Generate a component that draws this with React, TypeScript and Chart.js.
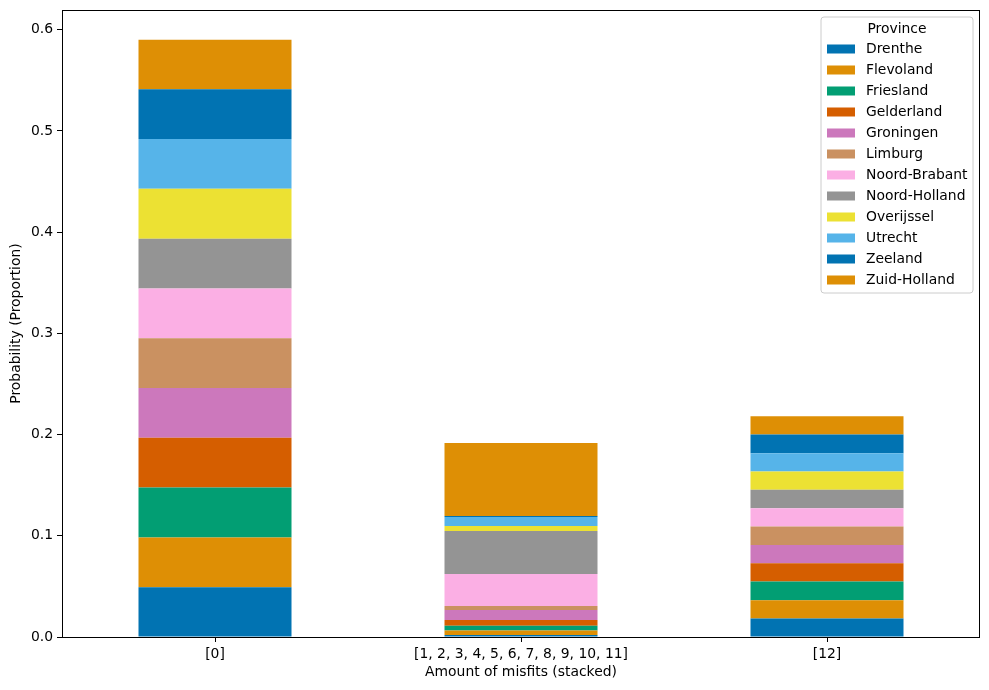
import React, { useEffect, useRef } from "react";
import { Chart, registerables } from "chart.js";

Chart.register(...registerables);

const categories = ["[0]", "[1, 2, 3, 4, 5, 6, 7, 8, 9, 10, 11]", "[12]"];
const provinces = [
  "Drenthe", "Flevoland", "Friesland", "Gelderland", "Groningen", "Limburg",
  "Noord-Brabant", "Noord-Holland", "Overijssel", "Utrecht", "Zeeland", "Zuid-Holland",
];
const colors = [
  "#0173B2", "#DE8F05", "#029E73", "#D55E00", "#CC78BC", "#CA9161",
  "#FBAFE4", "#949494", "#ECE133", "#56B4E9", "#0173B2", "#DE8F05",
];
// values per province for each category: [ [0], [1..11], [12] ]
const drenthe = [0.0492, 0.0020, 0.0184];
const flevoland = [0.0492, 0.0043, 0.0180];
const friesland = [0.0492, 0.0049, 0.0184];
const gelderland = [0.0492, 0.0056, 0.0180];
const groningen = [0.0492, 0.0099, 0.0180];
const limburg = [0.0492, 0.0040, 0.0184];
const noordBrabant = [0.0492, 0.0316, 0.0180];
const noordHolland = [0.0492, 0.0425, 0.0184];
const overijssel = [0.0492, 0.0049, 0.0180];
const utrecht = [0.0492, 0.0089, 0.0180];
const zeeland = [0.0492, 0.0010, 0.0184];
const zuidHolland = [0.0490, 0.0721, 0.0180];
const seriesValues = [
  drenthe, flevoland, friesland, gelderland, groningen, limburg,
  noordBrabant, noordHolland, overijssel, utrecht, zeeland, zuidHolland,
];
const yTicks = [0.0, 0.1, 0.2, 0.3, 0.4, 0.5, 0.6];
const yMax = 0.6195;

const FONT = "'DejaVu Sans', sans-serif";
const FS = 13.9;

const framePlugin = {
  id: "frame",
  afterDraw(chart: any) {
    const { ctx, chartArea } = chart;
    ctx.save();
    ctx.strokeStyle = "#000";
    ctx.lineWidth = 1;
    ctx.strokeRect(
      Math.round(chartArea.left) + 0.5,
      Math.round(chartArea.top) + 0.5,
      Math.round(chartArea.right - chartArea.left) - 1,
      Math.round(chartArea.bottom - chartArea.top)
    );
    // legend
    const w = 152, h = 276;
    const x = chartArea.right - 7 - w;
    const y = chartArea.top + 7;
    ctx.fillStyle = "rgba(255,255,255,0.8)";
    ctx.strokeStyle = "#cccccc";
    ctx.beginPath();
    const r = 3;
    ctx.moveTo(x + r, y);
    ctx.lineTo(x + w - r, y);
    ctx.quadraticCurveTo(x + w, y, x + w, y + r);
    ctx.lineTo(x + w, y + h - r);
    ctx.quadraticCurveTo(x + w, y + h, x + w - r, y + h);
    ctx.lineTo(x + r, y + h);
    ctx.quadraticCurveTo(x, y + h, x, y + h - r);
    ctx.lineTo(x, y + r);
    ctx.quadraticCurveTo(x, y, x + r, y);
    ctx.closePath();
    ctx.fill();
    ctx.stroke();
    ctx.font = `${FS}px ${FONT}`;
    ctx.fillStyle = "#000";
    ctx.textBaseline = "middle";
    ctx.textAlign = "center";
    ctx.fillText("Province", x + w / 2, y + 12);
    ctx.textAlign = "left";
    provinces.forEach((p, i) => {
      const cy = y + 32 + i * 21;
      ctx.fillStyle = colors[i];
      ctx.fillRect(x + 6, cy - 4.5, 28, 9);
      ctx.fillStyle = "#000";
      ctx.fillText(p, x + 45, cy);
    });
    ctx.restore();
  },
};

export default function App() {
  const ref = useRef<HTMLCanvasElement>(null);
  useEffect(() => {
    if (!ref.current) return;
    const chart = new Chart(ref.current, {
      type: "bar",
      data: {
        labels: categories,
        datasets: provinces.map((p, i) => ({
          label: p,
          data: seriesValues[i],
          backgroundColor: colors[i],
          borderWidth: 0,
          categoryPercentage: 1,
          barPercentage: 0.5,
        })),
      },
      options: {
        animation: false,
        responsive: false,
        maintainAspectRatio: false,
        layout: { padding: { top: 10, right: 9, left: 0, bottom: 0 } },
        plugins: { legend: { display: false }, tooltip: { enabled: false } },
        scales: {
          x: {
            stacked: true,
            grid: { display: true, offset: false, drawOnChartArea: false, drawTicks: true, tickLength: 5, color: "#000" },
            border: { display: false },
            ticks: { color: "#000", font: { family: FONT, size: FS }, padding: 4, maxRotation: 0 },
            title: { display: true, text: "Amount of misfits (stacked)", color: "#000", font: { family: FONT, size: FS }, padding: { top: 0, bottom: 9 } },
            afterFit: (s: any) => { s.height = 53; s.paddingLeft = 0; s.paddingRight = 0; },
          },
          y: {
            stacked: true,
            min: 0,
            max: yMax,
            grid: { display: true, drawOnChartArea: false, drawTicks: true, tickLength: 5, color: "#000" },
            border: { display: false },
            afterBuildTicks: (s: any) => { s.ticks = yTicks.map((v) => ({ value: v })); },
            ticks: {
              color: "#000",
              font: { family: FONT, size: FS },
              padding: 4,
              callback: (v: any) => Number(v).toFixed(1),
            },
            title: { display: true, text: "Probability (Proportion)", color: "#000", font: { family: FONT, size: FS }, padding: { top: 8, bottom: 4 } },
            afterFit: (s: any) => { s.width = 62; s.paddingTop = 0; s.paddingBottom = 0; },
          },
        },
      },
      plugins: [framePlugin],
    });
    return () => chart.destroy();
  }, []);
  return (
    <div style={{ position: "absolute", left: 0, top: 0, width: 989, height: 690, background: "#fff" }}>
      <canvas ref={ref} width={989} height={690} style={{ width: 989, height: 690 }} />
    </div>
  );
}
